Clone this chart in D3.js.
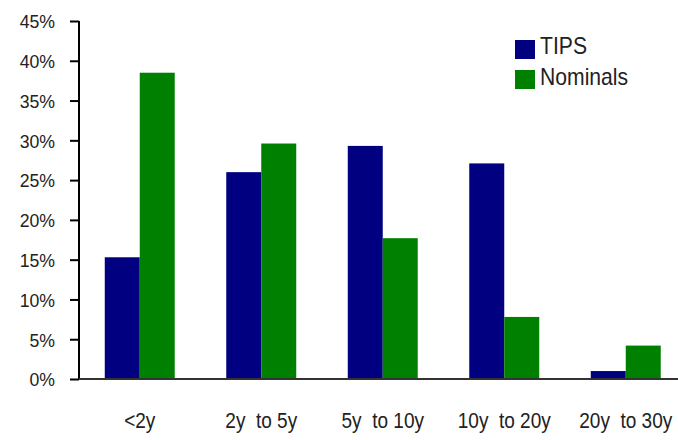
<!DOCTYPE html>
<html><head><meta charset="utf-8">
<script src="https://cdn.jsdelivr.net/npm/d3@7"></script>
<style>body{margin:0;background:#fff}svg{display:block}</style>
</head><body>
<svg id="c" width="678" height="440"></svg>
<script>
const categories = ["<2y", "2y  to 5y", "5y  to 10y", "10y  to 20y", "20y  to 30y"];
const seriesNames = ["TIPS", "Nominals"];
const tipsValues = [15.3, 26.0, 29.3, 27.1, 1.0];
const nominalValues = [38.5, 29.6, 17.7, 7.8, 4.2];
const yTicks = [0, 5, 10, 15, 20, 25, 30, 35, 40, 45];
const colors = ["#000080", "#008000"];

const svg = d3.select("#c");
const mLeft = 79, mRight = 686.5, mTop = 21, mBottom = 379;
const x = d3.scaleBand().domain(categories).range([mLeft, mRight]).paddingInner(0.424).paddingOuter(0.212);
const xs = d3.scaleBand().domain(seriesNames).range([0, x.bandwidth()]);
const y = d3.scaleLinear().domain([0, 45]).range([mBottom, mTop]);
const data = categories.map((c, i) => ({c, vals: [tipsValues[i], nominalValues[i]]}));
const FONT = "Liberation Sans, Arial, sans-serif";

const g = svg.append("g");
g.selectAll("g.grp").data(data).join("g").attr("class", "grp")
  .attr("transform", d => `translate(${x(d.c)},0)`)
  .selectAll("rect").data(d => d.vals.map((v, j) => ({v, s: seriesNames[j], j})))
  .join("rect")
  .attr("x", d => xs(d.s)).attr("width", xs.bandwidth())
  .attr("y", d => y(d.v)).attr("height", d => y(0) - y(d.v))
  .attr("fill", d => colors[d.j]);

// y axis
const ya = svg.append("g").attr("transform", `translate(${mLeft},0)`)
  .call(d3.axisLeft(y).tickValues(yTicks).tickFormat(d => d + "%").tickSize(9).tickPadding(15));
ya.select(".domain").attr("stroke", "#000").attr("stroke-width", 2).attr("d", `M0,${mTop}V${mBottom}`);
ya.selectAll(".tick line").attr("stroke", "#000").attr("stroke-width", 2);
ya.selectAll(".tick text").attr("font-family", FONT).attr("font-size", 19).attr("fill", "#222")
  .attr("x", null).attr("dy", "0.36em")
  .attr("transform", "translate(-24,0) scale(0.93,1)");

// x axis
const xa = svg.append("g").attr("transform", `translate(0,${mBottom})`)
  .call(d3.axisBottom(x).tickSize(0).tickPadding(33));
xa.select(".domain").attr("stroke", "#333").attr("stroke-width", 2).attr("d", `M${mLeft},0H678`);
xa.selectAll(".tick text").attr("font-family", FONT)
  .attr("font-size", 22).attr("fill", "#222").attr("xml:space", "preserve").style("white-space", "pre")
  .attr("transform", "scale(0.865,1)");

// legend
const lg = svg.append("g");
seriesNames.forEach((s, i) => {
  lg.append("rect").attr("x", 515).attr("y", 40 + i * 30).attr("width", 20).attr("height", 19).attr("fill", colors[i]);
  lg.append("text").attr("transform", `translate(540,${54 + i * 31}) scale(0.92,1)`).text(s)
    .attr("font-family", FONT).attr("font-size", 23).attr("fill", "#222");
});
</script>
</body></html>
